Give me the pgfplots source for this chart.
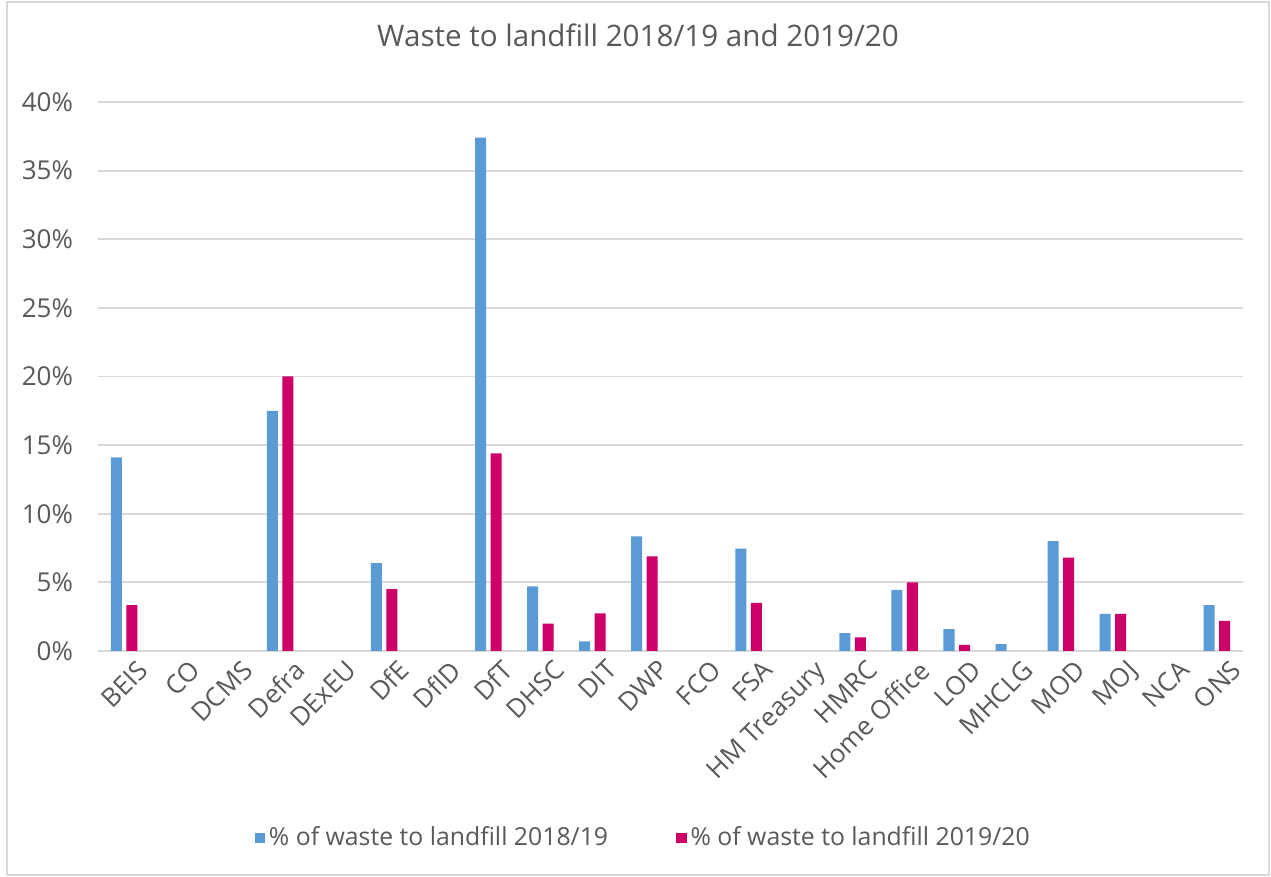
\documentclass[border=0pt]{standalone}
\usepackage{pgfplots}
\pgfplotsset{compat=1.18}
\usepackage{fontspec}
\setmainfont{Open Sans}
\definecolor{txt}{HTML}{595959}
\definecolor{gridc}{HTML}{D9D9D9}
\definecolor{cblue}{HTML}{5B9BD5}
\definecolor{cpink}{HTML}{CC0066}
\begin{document}
\begin{tikzpicture}
\useasboundingbox (-49pt,-113pt) rectangle (586.5pt,325.5pt);
\draw[gridc, line width=0.8pt] (-45.5pt,-112pt) rectangle (585.5pt,324.5pt);
\begin{axis}[
  at={(0,0)}, anchor=south west,
  scale only axis, width=572.5pt, height=274.5pt,
  ybar=2.25pt, bar width=5.5pt,
  xmin=-0.5, xmax=21.5, ymin=0, ymax=40,
  xtick={0,...,21},
  xticklabels={BEIS,CO,DCMS,Defra,DExEU,DfE,DfID,DfT,DHSC,DIT,DWP,FCO,FSA,HM Treasury,HMRC,Home Office,LOD,MHCLG,MOD,MOJ,NCA,ONS},
  ytick={0,5,...,40},
  yticklabel={\pgfmathprintnumber{\tick}\%},
  /pgf/number format/assume math mode=true,
  major tick length=0pt,
  axis line style={draw=none},
  ymajorgrids, xmajorgrids=false, major grid style={draw=gridc, line width=0.9pt},
  tick label style={font=\fontsize{13}{15}\selectfont, text=txt},
  x tick label style={rotate=45, anchor=north east, inner sep=1pt, yshift=-6pt, xshift=3pt},
  y tick label style={xshift=-9pt},
  title={Waste to landfill 2018/19 and 2019/20},
  title style={at={(axis description cs:0.4716,1.1)}, anchor=center, font=\fontsize{14.8}{17}\selectfont, text=txt},
  legend style={at={(axis description cs:0.477,-0.3406)}, anchor=center, draw=none, font=\fontsize{12.4}{14}\selectfont, text=txt, legend columns=2, /tikz/every even column/.append style={column sep=32pt}},
  every axis plot post/.append style={legend image code/.code={\fill[##1] (0pt,-2.6pt) rectangle (5.2pt,2.6pt);}},
]
\addplot[fill=cblue, draw=none] coordinates {
(0,14.1) (3,17.5) (5,6.4) (7,37.4) (8,4.7) (9,0.7) (10,8.35)
(12,7.45) (14,1.3) (15,4.45) (16,1.6) (17,0.5) (18,8.0) (19,2.7) (21,3.35)};
\addplot[fill=cpink, draw=none] coordinates {
(0,3.35) (3,20.0) (5,4.5) (7,14.4) (8,2.0) (9,2.75) (10,6.9)
(12,3.5) (14,1.0) (15,5.0) (16,0.45) (18,6.8) (19,2.7) (21,2.2)};
\legend{\% of waste to landfill 2018/19, \% of waste to landfill 2019/20}
\end{axis}
\end{tikzpicture}
\end{document}
